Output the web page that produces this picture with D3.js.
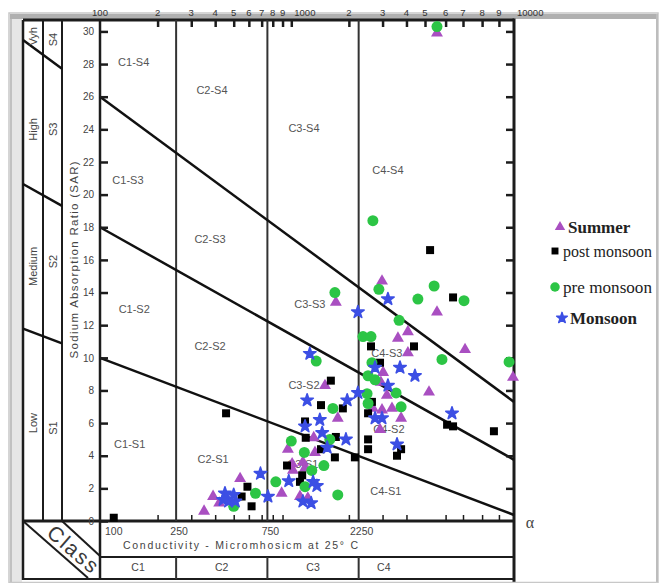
<!DOCTYPE html>
<html lang="en">
<head>
<meta charset="utf-8">
<script src="https://cdn.jsdelivr.net/npm/d3@7"></script>
<style>
  body { margin: 0; background: #fff; }
  svg { display: block; }
</style>
</head>
<body>
<script>
// seasonal samples: conductivity (micromhos/cm) and SAR
const summerEC  = [5560, 2980, 1710, 5560, 4070, 3610, 7100, 4070, 3020, 9930, 2940, 1500, 5180, 3160, 2670, 2980, 3360, 3750, 1750, 2910, 1310, 960, 1330, 1010, 1020, 1180, 1150, 890, 1110, 1220, 540, 390, 420, 350];
const summerSAR = [29.9, 14.7, 13.4, 12.8, 11.6, 11.2, 10.5, 10.3, 9.1, 8.8, 8.5, 8.3, 7.9, 7.7, 6.9, 6.8, 6.9, 6.3, 6.3, 5.6, 5.1, 4.4, 4.2, 3.5, 3.1, 3.25, 3.6, 1.7, 1.5, 1.4, 2.6, 1.5, 1.1, 0.6];

const postEC  = [118, 5230, 6410, 2610, 4380, 2910, 1610, 1430, 1860, 2640, 2520, 456, 1180, 6080, 6410, 8690, 1190, 1710, 2520, 2520, 1430, 3750, 3570, 1690, 2150, 950, 1140, 1110, 590, 550, 620];
const postSAR = [0.2, 16.6, 13.7, 10.7, 10.7, 9.7, 8.6, 7.1, 6.9, 7.3, 6.6, 6.6, 6.1, 5.9, 5.8, 5.5, 5.1, 5.15, 5.0, 4.4, 4.4, 4.4, 4.0, 3.9, 3.9, 3.4, 2.8, 2.4, 2.1, 1.5, 0.9];

const preEC  = [5560, 2670, 2870, 5420, 4590, 7050, 1690, 3660, 2370, 2610, 5810, 9660, 2640, 1350, 2520, 2740, 2490, 3530, 1650, 2520, 3750, 1000, 1590, 1170, 1480, 1280, 830, 1180, 1750, 650, 500];
const preSAR = [30.3, 18.4, 14.2, 14.4, 13.6, 13.5, 14.0, 12.3, 11.3, 11.3, 9.9, 9.75, 9.7, 9.8, 8.9, 8.65, 7.8, 7.85, 6.9, 7.2, 7.0, 4.9, 5.0, 4.2, 3.4, 3.1, 2.4, 2.1, 1.6, 1.7, 0.9];

const monsoonEC  = [3200, 2230, 1250, 3700, 2740, 4430, 3200, 2230, 1210, 1960, 2740, 2980, 1410, 1180, 6350, 1450, 1930, 3570, 1540, 690, 970, 1300, 1360, 755, 1150, 1270, 450, 500, 440, 470, 510];
const monsoonSAR = [13.6, 12.8, 10.25, 9.4, 9.4, 8.9, 8.3, 7.85, 7.4, 7.4, 6.3, 6.3, 6.2, 5.8, 6.6, 5.4, 5.0, 4.7, 4.5, 2.9, 2.45, 2.4, 2.15, 1.5, 1.2, 1.1, 1.7, 1.6, 1.3, 1.2, 1.2];

// class limits and tick labels
const classBounds = [100, 250, 750, 2250, 5000];
const classNames = ["C1", "C2", "C3", "C4"];
const boundLabels = ["100", "250", "750", "2250"];
const sarTicks = [0, 2, 4, 6, 8, 10, 12, 14, 16, 18, 20, 22, 24, 26, 28, 30];
const topTicks = [100, 200, 300, 400, 500, 600, 700, 800, 900, 1000, 2000, 3000, 4000, 5000, 6000, 7000, 8000, 9000, 10000];
const topLabels = ["100", "2", "3", "4", "5", "6", "7", "8", "9", "1000", "2", "3", "4", "5", "6", "7", "8", "9", "10000"];
const bottomTicks = [200, 300, 400, 500, 600, 700, 800, 900, 2000, 3000, 4000, 6000, 7000, 8000, 9000];

// sodium hazard boundary lines: SAR at 100 and at 10000 micromhos
const sBoundAt100 = [10, 18, 26];
const sBoundAt10000 = [0.37, 3.75, 7.3];

const hazardNames = ["Vyh", "High", "Medium", "Low"];
const sNames = ["S4", "S3", "S2", "S1"];
const hazardSAR = [29.7, 24.0, 15.6, 6.0];
const sSAR = [29.5, 24.0, 15.9, 5.7];

// zone labels, placed in data coordinates
const zoneNames = ["C1-S4", "C2-S4", "C3-S4", "C4-S4", "C1-S3", "C2-S3", "C3-S3", "C4-S3", "C1-S2", "C2-S2", "C3-S2", "C4-S2", "C1-S1", "C2-S1", "C3-S1", "C4-S1"];
const zoneEC  = [150, 385, 1165, 3200, 140, 376, 1250, 3160, 151, 376, 1165, 3240, 143, 390, 1150, 3120];
const zoneSAR = [28.1, 26.4, 24.1, 21.5, 20.9, 17.3, 13.3, 10.3, 13.0, 10.7, 8.3, 5.6, 4.7, 3.8, 3.5, 1.8];

const seasons = ["Summer", "post monsoon", "pre monsoon", "Monsoon"];

const width = 661, height = 583;
const plotLeft = 100, plotRight = 514, plotTop = 20, plotBottom = 521;
const colL = [23, 43, 62];   // left label columns
const ink = "#1c1c1c";

const x = d3.scaleLog()
    .domain([100, 5000, 7000, 10000])
    .range([plotLeft, 425, 463, plotRight]);

const y = d3.scaleLinear()
    .domain([0, 30.7])
    .range([plotBottom, plotTop]);

const svg = d3.select("body").append("svg")
    .attr("width", width)
    .attr("height", height)
    .style("font-family", "'Liberation Sans', Arial, sans-serif");

// outer picture frame
svg.append("rect").attr("x", 9).attr("y", 13).attr("width", 649).attr("height", 570)
    .attr("fill", "#fff").attr("stroke", "#c8c8c8").attr("stroke-width", 1.5);
svg.append("rect").attr("x", 10).attr("y", 14).attr("width", 12).attr("height", 568).attr("fill", "#e6e6e6");
svg.append("line").attr("x1", 11).attr("x2", 11).attr("y1", 14).attr("y2", 582).attr("stroke", "#b5b5b5").attr("stroke-width", 1.5);
svg.append("rect").attr("x", 10).attr("y", 14).attr("width", 648).attr("height", 5).attr("fill", "#b0b0b0");

function seg(x1, y1, x2, y2, w, c) {
    svg.append("line")
        .attr("x1", x1).attr("y1", y1).attr("x2", x2).attr("y2", y2)
        .attr("stroke", c || ink).attr("stroke-width", w || 2);
}

// grid of the diagram
seg(colL[0], plotTop, plotRight, plotTop, 3);
seg(colL[0], plotBottom, plotRight, plotBottom, 3);
seg(plotRight, plotTop - 1.5, plotRight, 582, 3);
seg(colL[0], plotTop, colL[0], 580, 2.5);
seg(colL[1], plotTop, colL[1], plotBottom, 2);
seg(colL[2], plotTop, colL[2], plotBottom, 2);
seg(plotLeft, plotTop, plotLeft, 579, 2.5);
seg(plotLeft, 557, plotRight, 557, 2);
seg(colL[0], 579, plotRight, 579, 2);

classBounds.slice(1, 4).forEach((b) => {
    seg(x(b), plotTop, x(b), plotBottom, 2, "#333");
    seg(x(b), 557, x(b), 579, 2, "#333");
});

// "Class" corner
seg(colL[0], plotBottom, 88, 578, 2);
seg(colL[2], plotBottom, plotLeft, 556, 2);
svg.append("text")
    .attr("transform", "translate(73,549) rotate(41)")
    .attr("text-anchor", "middle")
    .attr("dy", "0.35em")
    .attr("font-size", 21)
    .attr("textLength", 60)
    .attr("fill", "#3a3a3a")
    .text("Class");

// sodium hazard lines, continued into the left columns
sBoundAt100.forEach((s, i) => {
    const x0 = x(100), y0 = y(s), x1 = x(10000), y1 = y(sBoundAt10000[i]);
    const k = (y1 - y0) / (x1 - x0);
    seg(x0, y0, x1, y1, 2.5, "#111");
    seg(colL[0], y0 + (colL[0] - x0) * k, colL[2], y0 + (colL[2] - x0) * k, 2.5, "#111");
});

// zone labels
svg.append("g").selectAll("text")
    .data(zoneNames)
    .enter()
    .append("text")
    .attr("x", (d, i) => x(zoneEC[i]))
    .attr("y", (d, i) => y(zoneSAR[i]))
    .attr("dy", "0.35em")
    .attr("text-anchor", "middle")
    .attr("font-size", 11)
    .attr("fill", "#555")
    .text((d) => d);

// left columns text
svg.append("g").selectAll("text")
    .data(hazardNames)
    .enter()
    .append("text")
    .attr("transform", (d, i) => "translate(" + ((colL[0] + colL[1]) / 2) + "," + y(hazardSAR[i]) + ") rotate(-90)")
    .attr("dy", "0.35em")
    .attr("text-anchor", "middle")
    .attr("font-size", 11)
    .attr("fill", "#444")
    .text((d) => d);

svg.append("g").selectAll("text")
    .data(sNames)
    .enter()
    .append("text")
    .attr("transform", (d, i) => "translate(" + ((colL[1] + colL[2]) / 2 + 1) + "," + y(sSAR[i]) + ") rotate(-90)")
    .attr("dy", "0.35em")
    .attr("text-anchor", "middle")
    .attr("font-size", 11)
    .attr("fill", "#444")
    .text((d) => d);

svg.append("text")
    .attr("transform", "translate(74," + y(16) + ") rotate(-90)")
    .attr("dy", "0.35em")
    .attr("text-anchor", "middle")
    .attr("font-size", 11.5)
    .attr("textLength", 197)
    .attr("fill", "#444")
    .text("Sodium Absorption Ratio (SAR)");

// axes
const yAxisL = d3.axisLeft(y).tickValues(sarTicks).tickSize(-8).tickPadding(6);
const gl = svg.append("g").attr("transform", "translate(" + plotLeft + ",0)").call(yAxisL);

const yAxisR = d3.axisRight(y).tickValues(sarTicks.slice(1)).tickSize(-8).tickFormat("");
const gr = svg.append("g").attr("transform", "translate(" + plotRight + ",0)").call(yAxisR);

const xAxisT = d3.axisTop(x).tickValues(topTicks.slice(1, -1)).tickSize(-7).tickFormat("");
const gt = svg.append("g").attr("transform", "translate(0," + plotTop + ")").call(xAxisT);

const xAxisB = d3.axisTop(x).tickValues(bottomTicks).tickSize(6).tickFormat("");
const gb = svg.append("g").attr("transform", "translate(0," + plotBottom + ")").call(xAxisB);

[gl, gr, gt, gb].forEach((g) => {
    g.select(".domain").remove();
    g.selectAll(".tick line").attr("stroke", ink).attr("stroke-width", 2.5);
});
gb.selectAll(".tick line").attr("stroke-width", 1.5);
gl.selectAll("text").attr("font-size", 10).attr("fill", "#444")
    .attr("font-family", "'Liberation Sans', Arial, sans-serif");

// top scale labels
svg.append("g").selectAll("text")
    .data(topTicks)
    .enter()
    .append("text")
    .attr("x", (d, i) => topLabels[i].length > 3 ? x(d) + 3 : x(d))
    .attr("y", 16)
    .attr("text-anchor", (d, i) => topLabels[i].length > 3 ? "start" : "middle")
    .attr("font-size", 9.5)
    .attr("fill", "#333")
    .text((d, i) => topLabels[i]);

// bottom panel
svg.append("g").selectAll("text")
    .data(boundLabels)
    .enter()
    .append("text")
    .attr("x", (d, i) => i === 0 ? x(classBounds[i]) + 5 : x(classBounds[i]) + 3)
    .attr("y", 535)
    .attr("text-anchor", (d, i) => i === 0 ? "start" : "middle")
    .attr("font-size", 10.5)
    .attr("fill", "#444")
    .text((d) => d);

svg.append("text")
    .attr("x", 123)
    .attr("y", 549)
    .attr("font-size", 10.5)
    .attr("textLength", 235)
    .attr("fill", "#444")
    .text("Conductivity - Micromhosicm at 25° C");

svg.append("g").selectAll("text")
    .data(classNames)
    .enter()
    .append("text")
    .attr("x", (d, i) => (x(classBounds[i]) + x(classBounds[i + 1])) / 2 - (i === 3 ? 8 : 0))
    .attr("y", 571)
    .attr("text-anchor", "middle")
    .attr("font-size", 10.5)
    .attr("fill", "#444")
    .text((d) => d);

svg.append("text")
    .attr("x", 530)
    .attr("y", 528)
    .attr("text-anchor", "middle")
    .attr("font-family", "'Liberation Serif', serif")
    .attr("font-size", 16)
    .attr("fill", "#444")
    .text("α");

// sample points
const series = [
    { ec: summerEC, sar: summerSAR, type: d3.symbolTriangle, size: 62, color: "#a94fc1" },
    { ec: postEC, sar: postSAR, type: d3.symbolSquare, size: 64, color: "#000000" },
    { ec: preEC, sar: preSAR, type: d3.symbolCircle, size: 95, color: "#2cc545" },
    { ec: monsoonEC, sar: monsoonSAR, type: d3.symbolStar, size: 48, color: "#3c4fe4" }
];

series.forEach((s) => {
    svg.append("g").selectAll("path")
        .data(s.ec)
        .enter()
        .append("path")
        .attr("d", d3.symbol().type(s.type).size(s.size))
        .attr("transform", (d, i) => "translate(" + x(d) + "," + y(s.sar[i]) + ")")
        .attr("fill", s.color)
        .attr("stroke", s.color)
        .attr("stroke-width", s.type === d3.symbolStar ? 1.6 : 0)
        .attr("stroke-linejoin", "round");
});

// legend
const legend = svg.append("g");
const legendY = [227, 251, 287, 318];
const legendTextX = [568, 563, 563, 570];
const legendBold = [true, false, false, true];
seasons.forEach((name, i) => {
    const s = series[i];
    legend.append("path")
        .attr("d", d3.symbol().type(s.type).size(s.size * 0.75))
        .attr("transform", "translate(" + (legendTextX[i] - 8) + "," + legendY[i] + ")")
        .attr("fill", s.color)
        .attr("stroke", s.color)
        .attr("stroke-width", s.type === d3.symbolStar ? 1.4 : 0)
        .attr("stroke-linejoin", "round");
    const t = legend.append("text")
        .attr("x", legendTextX[i])
        .attr("y", legendY[i])
        .attr("dy", "0.33em")
        .attr("font-family", "'Liberation Serif', 'Times New Roman', serif")
        .attr("font-size", 17)
        .attr("font-weight", legendBold[i] ? "bold" : "normal")
        .attr("fill", "#222")
        .text(name);
    // keep the long labels inside the frame
    if (!legendBold[i]) t.attr("textLength", 89).attr("lengthAdjust", "spacingAndGlyphs");
});

// right edge of the picture frame
svg.append("line").attr("x1", 657).attr("x2", 657).attr("y1", 14).attr("y2", 583)
    .attr("stroke", "#bdbdbd").attr("stroke-width", 2);
svg.append("line").attr("x1", 9).attr("x2", 658).attr("y1", 582.5).attr("y2", 582.5)
    .attr("stroke", "#c8c8c8").attr("stroke-width", 1.5);
</script>
</body>
</html>
